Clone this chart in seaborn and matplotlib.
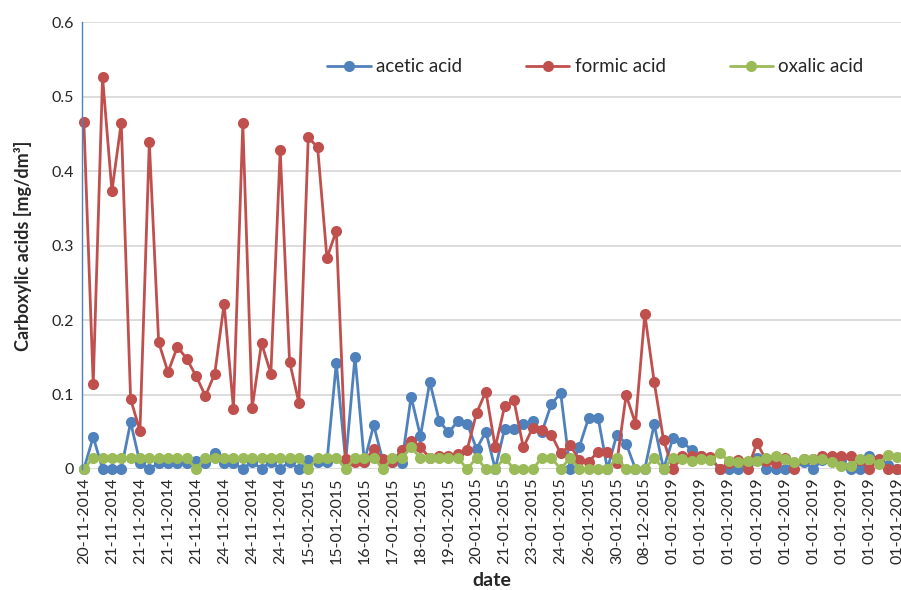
import numpy as np
import pandas as pd
import matplotlib
matplotlib.use("Agg")
import matplotlib.pyplot as plt
import seaborn as sns

# values, one point per sample
acetic = [0, 0.043, 0, 0, 0, 0.063, 0.008, 0, 0.008, 0.008, 0.008, 0.008, 0.011, 0.008,
          0.021, 0.008, 0.008, 0, 0.01, 0, 0.01, 0, 0.01, 0, 0.012, 0.01, 0.01, 0.142,
          0.01, 0.151, 0.01, 0.059, 0.01, 0.01,
          0.008, 0.097, 0.044, 0.117, 0.065, 0.049, 0.064, 0.061, 0.027, 0.050, 0.0,
          0.054, 0.054, 0.060, 0.064, 0.050, 0.087, 0.102,
          0, 0.030, 0.069, 0.069, 0, 0.046, 0.034, 0, 0, 0.060, 0, 0.041, 0.036, 0.026,
          0.017, 0.015, 0,
          0, 0, 0.008, 0.015, 0, 0, 0, 0.008, 0.01, 0, 0.012, 0.013, 0.012, 0, 0,
          0.017, 0.01, 0.005, 0]
formic = [0.466, 0.114, 0.526, 0.373, 0.465, 0.094, 0.051, 0.439, 0.170, 0.130, 0.164,
          0.148, 0.125, 0.098, 0.128, 0.222, 0.081, 0.464, 0.082, 0.169, 0.128, 0.428,
          0.144, 0.089, 0.445, 0.432, 0.283, 0.320, 0.013, 0.009, 0.010, 0.027, 0.013,
          0.009,
          0.026, 0.038, 0.029, 0.015, 0.018, 0.017, 0.020, 0.026, 0.075, 0.104, 0.029,
          0.084, 0.092, 0.029, 0.055, 0.053, 0.046, 0.021,
          0.032, 0.012, 0.010, 0.023, 0.023, 0.008, 0.099, 0.061, 0.208, 0.117, 0.039,
          0.0, 0.017, 0.017, 0.017, 0.016, 0.0,
          0.008, 0.012, 0.0, 0.035, 0.011, 0.008, 0.015, 0.0, 0.014, 0.013, 0.018,
          0.018, 0.018, 0.017, 0.012, 0.0, 0.013, 0.0, 0.0]
oxalic = [0] + [0.015] * 11 + [0] + [0.015] * 11 + [0] + [0.015] * 3 + [0] + [0.015] * 3 + [0] + [0.015] + \
         [0.015, 0.029, 0.015, 0.015, 0.015, 0.015, 0.015, 0, 0.015, 0, 0, 0.015, 0, 0, 0,
          0.015, 0.015, 0,
          0.015, 0, 0, 0, 0, 0.015, 0, 0, 0, 0.015, 0, 0.015, 0.013, 0.011, 0.013, 0.012,
          0.021,
          0.011, 0.01, 0.011, 0.011, 0.015, 0.018, 0.013, 0.01, 0.013, 0.013, 0.014, 0.01,
          0.004, 0.004, 0.014, 0.014, 0.007, 0.019, 0.016]

# one date label every third sample
date_labels = ["20-11-2014", "21-11-2014", "21-11-2014", "21-11-2014", "21-11-2014",
               "24-11-2014", "24-11-2014", "24-11-2014", "15-01-2015", "15-01-2015",
               "16-01-2015", "17-01-2015", "18-01-2015", "19-01-2015", "20-01-2015",
               "21-01-2015", "23-01-2015", "24-01-2015", "26-01-2015", "30-01-2015",
               "08-12-2015"] + ["01-01-2019"] * 9
series_names = ["acetic acid", "formic acid", "oxalic acid"]
colors = ["#4F81BD", "#C0504D", "#9BBB59"]

n = len(acetic)
df = pd.DataFrame({
    "idx": list(range(n)) * 3,
    "value": acetic + formic + oxalic,
    "acid": [series_names[0]] * n + [series_names[1]] * n + [series_names[2]] * n,
})

sns.set_theme(style="white")
plt.rcParams["font.family"] = ["Lato", "DejaVu Sans"]

fig = plt.figure(figsize=(9.01, 5.90), dpi=100)
ax = fig.add_axes([82 / 901, 1 - 469 / 590, 1 - 82 / 901, 447 / 590])

sns.lineplot(data=df, x="idx", y="value", hue="acid", hue_order=series_names,
             palette=colors, marker="o", markersize=8, markeredgewidth=0,
             linewidth=2, sort=False, ax=ax)
for ln in ax.lines:
    ln.set_clip_on(False)

ax.set_ylim(0, 0.6)
ax.set_xlim(-0.2, 87.4)
ax.set_yticks(np.arange(0, 0.61, 0.1))
ax.set_yticklabels(["0", "0.1", "0.2", "0.3", "0.4", "0.5", "0.6"], fontsize=11.5)
ax.set_xticks(np.arange(0, 3 * len(date_labels), 3))
ax.set_xticklabels(date_labels, rotation=90, fontsize=11.5)
ax.tick_params(axis="both", length=0, pad=6)
ax.yaxis.grid(True, color="#D9D9D9", linewidth=1.3)
ax.set_axisbelow(True)
for s in ["top", "right", "bottom"]:
    ax.spines[s].set_visible(False)
ax.spines["left"].set_color("#4F81BD")
ax.spines["left"].set_linewidth(1)

ax.set_xlabel("date", fontsize=14, fontweight="bold", labelpad=6)
ax.set_ylabel("Carboxylic acids [mg/dm³]", fontsize=13, fontweight="bold", labelpad=14)

ax.legend(loc="center", bbox_to_anchor=(0.627, 0.90), ncol=3, frameon=False,
          fontsize=13.5, handlelength=2.3, columnspacing=3.4, handletextpad=0.3)

fig.savefig("out.png", dpi=100)
